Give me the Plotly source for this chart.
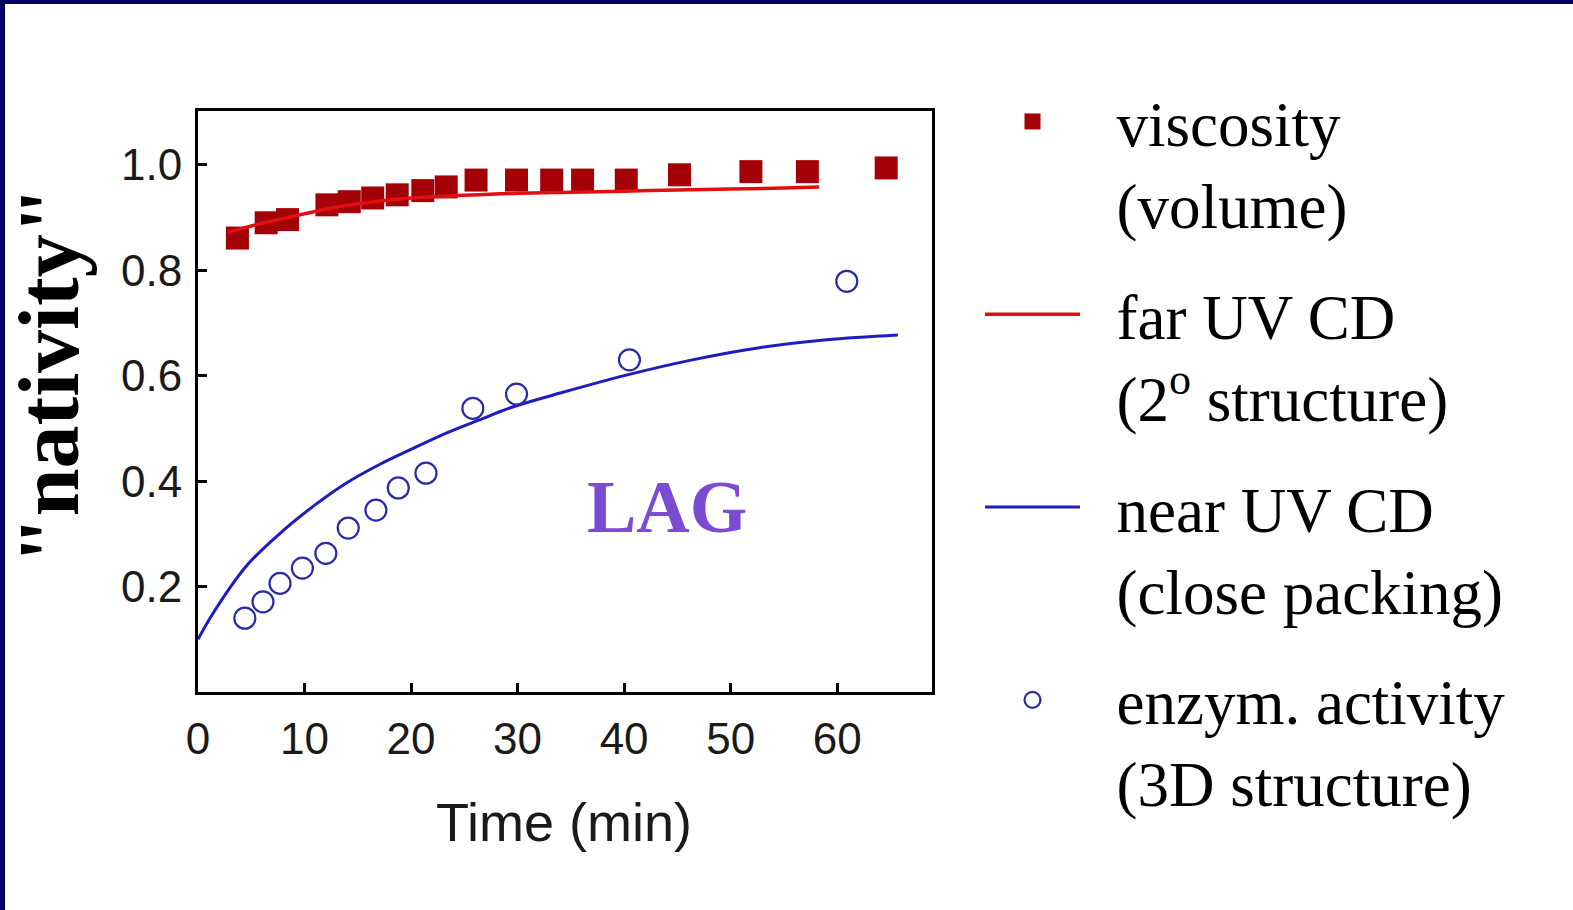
import plotly.graph_objects as go

# ---- data ----
visc_t = [3.7, 6.4, 8.4, 12.1, 14.2, 16.4, 18.7, 21.1, 23.3, 26.1, 29.9, 33.2, 36.1, 40.2, 45.2, 51.9, 57.2, 64.6]
visc_v = [0.861, 0.890, 0.896, 0.924, 0.930, 0.937, 0.943, 0.951, 0.958, 0.971, 0.971, 0.971, 0.971, 0.971, 0.981, 0.987, 0.987, 0.994]

far_t = [2.8, 5, 8, 10, 12, 15, 20, 25, 30, 35, 40, 45, 50, 55, 58.3]
far_v = [0.872, 0.884, 0.898, 0.907, 0.916, 0.926, 0.937, 0.942, 0.946, 0.948, 0.950, 0.952, 0.954, 0.956, 0.958]

near_t = [0, 1.4, 4.5, 7.7, 10.8, 13.9, 17.0, 20.2, 23.3, 26.4, 29.6, 34, 40.2, 46.4, 52.7, 59, 65.7]
near_v = [0.100, 0.149, 0.238, 0.301, 0.352, 0.396, 0.431, 0.462, 0.491, 0.516, 0.541, 0.567, 0.601, 0.630, 0.653, 0.668, 0.677]

act_t = [4.4, 6.1, 7.7, 9.8, 12.0, 14.1, 16.7, 18.8, 21.4, 25.8, 29.9, 40.5, 60.9]
act_v = [0.140, 0.171, 0.206, 0.235, 0.263, 0.311, 0.345, 0.387, 0.415, 0.538, 0.565, 0.630, 0.779]

x_ticks = [0, 10, 20, 30, 40, 50, 60]
y_ticks = [0.2, 0.4, 0.6, 0.8, 1.0]
y_ticktext = ["0.2", "0.4", "0.6", "0.8", "1.0"]

NB = "\u00a0\u00a0"
names = [NB + "viscosity<br>" + NB + "(volume)",
         NB + "far UV CD<br>" + NB + "(2<sup>o</sup> structure)",
         NB + "near UV CD<br>" + NB + "(close packing)",
         NB + "enzym. activity<br>" + NB + "(3D structure)"]

W, H = 1573, 910
L, R, T, B = 198, 641, 111, 218

fig = go.Figure()
fig.add_trace(go.Scatter(x=visc_t, y=visc_v, mode="markers", name=names[0], legendgroup="a",
                         marker=dict(symbol="square", size=23, color="#a30008", line=dict(width=0))))
fig.add_trace(go.Scatter(x=far_t, y=far_v, mode="lines", name=names[1], legendgroup="b",
                         line=dict(color="#e01010", width=3.5, shape="spline")))
fig.add_trace(go.Scatter(x=near_t, y=near_v, mode="lines", name=names[2], legendgroup="c",
                         line=dict(color="#1c1cc0", width=3, shape="spline")))
fig.add_trace(go.Scatter(x=act_t, y=act_v, mode="markers", name=names[3], legendgroup="d",
                         marker=dict(symbol="circle-open", size=21, color="#2a2aa8", line=dict(width=2.2))))

axis_common = dict(showgrid=False, zeroline=False, showline=True, linecolor="black", linewidth=3,
                   mirror=True, ticks="inside", ticklen=9, tickwidth=2.5, tickcolor="black",
                   tickfont=dict(family="Liberation Sans, Arial", size=44, color="#1a1a1a"))

fig.update_xaxes(range=[0, 68.9], tickvals=x_ticks, ticklabelstandoff=6, **axis_common)
fig.update_yaxes(range=[0, 1.102], tickvals=y_ticks, ticktext=y_ticktext, ticklabelstandoff=4, **axis_common)


def px_x(px):
    return (px - L) / (W - L - R)


def px_y(py):
    return 1 - (py - T) / (H - T - B)


annotations = [
    dict(text="<b>LAG</b>", x=44.0, y=0.35, xref="x", yref="y", showarrow=False,
         font=dict(family="Liberation Serif, Times New Roman, serif", size=74, color="#7b4bd4"),
         xanchor="center", yanchor="middle"),
    dict(text="<b>\"nativity\"</b>", x=px_x(49), y=px_y(376), xref="paper", yref="paper", showarrow=False,
         textangle=-90, font=dict(family="Liberation Serif, Times New Roman, serif", size=86, color="black"),
         xanchor="center", yanchor="middle"),
    dict(text="Time (min)", x=px_x(564), y=px_y(822), xref="paper", yref="paper", showarrow=False,
         font=dict(family="Liberation Sans, Arial", size=54, color="#1a1a1a"),
         xanchor="center", yanchor="middle"),
]

shapes = [
    dict(type="rect", xref="paper", yref="paper", x0=px_x(0), x1=px_x(W), y0=px_y(0), y1=px_y(4),
         fillcolor="#000066", line=dict(width=0), layer="above"),
    dict(type="rect", xref="paper", yref="paper", x0=px_x(0), x1=px_x(5), y0=px_y(0), y1=px_y(H),
         fillcolor="#000066", line=dict(width=0), layer="above"),
]

fig.update_layout(
    width=W, height=H,
    margin=dict(l=L, r=R, t=T, b=B, autoexpand=False),
    paper_bgcolor="white", plot_bgcolor="white",
    showlegend=True,
    legend=dict(x=px_x(980), y=px_y(74), xanchor="left", yanchor="top",
                font=dict(family="Liberation Serif, Times New Roman, serif", size=63, color="black"),
                valign="top", tracegroupgap=26, traceorder="grouped", itemwidth=95,
                maxheight=890, bgcolor="rgba(0,0,0,0)"),
    annotations=annotations,
    shapes=shapes,
)

fig.write_html("out.html", config={"displayModeBar": False},
               post_script="document.body.style.margin='0px';")
